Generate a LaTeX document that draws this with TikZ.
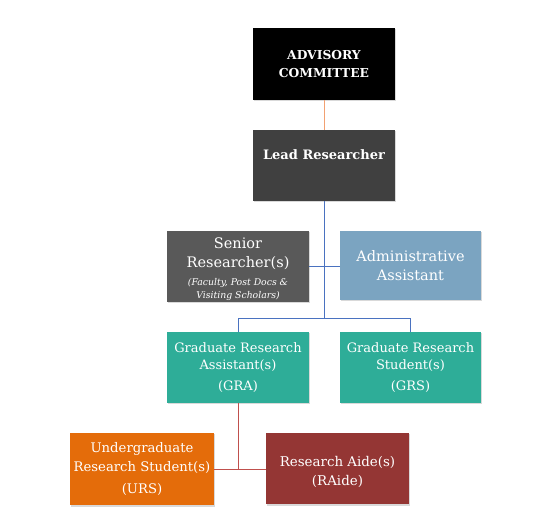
\documentclass[tikz,border=0pt]{standalone}
\usepackage{fontspec}
\setmainfont{DejaVu Serif}
\usepackage{xcolor}
\usetikzlibrary{shadows}
\definecolor{advbox}{HTML}{000000}
\definecolor{leadbox}{HTML}{404040}
\definecolor{seniorbox}{HTML}{595959}
\definecolor{adminbox}{HTML}{7BA4C1}
\definecolor{gradbox}{HTML}{2EAD98}
\definecolor{ugbox}{HTML}{E46C0A}
\definecolor{aidebox}{HTML}{943634}
\definecolor{linkorange}{HTML}{F2A172}
\definecolor{linkblue}{HTML}{4A72C0}
\definecolor{linkred}{HTML}{C0504D}
\newcommand{\notefont}{\fontsize{9.3}{12}\selectfont\itshape}
\tikzset{
  orgbox/.style={text=white, align=center, inner sep=1pt, minimum width=142pt,
                 minimum height=71pt,
                 drop shadow={opacity=0.3, shadow xshift=1pt, shadow yshift=-1.5pt}},
  link/.style={line width=0.6pt}
}

\begin{document}
\begin{tikzpicture}[x=1pt,y=-1pt]
  \useasboundingbox (0,0) rectangle (560,529);

  \node[orgbox,fill=advbox,minimum height=72pt,font=\fontsize{12.3}{17.5}\selectfont\bfseries]
    (adv) at (324,64) {ADVISORY\\COMMITTEE};
  \node[orgbox,fill=leadbox,font=\fontsize{13}{22}\selectfont\bfseries]
    (lead) at (324,165.5) {Lead Researcher\\\mbox{}};

  \node[orgbox,fill=seniorbox,font=\fontsize{14.5}{19}\selectfont]
    (senior) at (238,266.5)
    {\mbox{}\\[-3pt]Senior\\Researcher(s)\\[-1pt]
     {\notefont (Faculty, Post Docs \&}\\[-6pt]{\notefont Visiting Scholars)}};
  \node[orgbox,fill=adminbox,minimum width=141pt,minimum height=69pt,
        font=\fontsize{14.5}{19}\selectfont]
    (admin) at (410.5,265.5) {Administrative\\Assistant};

  \node[orgbox,fill=gradbox,font=\fontsize{13}{17}\selectfont]
    (gra) at (238,367.5) {Graduate Research\\Assistant(s)\\[4pt](GRA)};
  \node[orgbox,fill=gradbox,minimum width=141pt,font=\fontsize{13}{17}\selectfont]
    (grs) at (410.5,367.5) {Graduate Research\\Student(s)\\[4pt](GRS)};

  \node[orgbox,fill=ugbox,minimum width=144pt,minimum height=72pt,
        font=\fontsize{13.2}{19}\selectfont]
    (urs) at (142,469) {Undergraduate\\Research Student(s)\\[3pt](URS)};
  \node[orgbox,fill=aidebox,minimum width=143pt,font=\fontsize{13.4}{19}\selectfont]
    (raide) at (337.5,468.5) {\mbox{}\\[-1pt]Research Aide(s)\\(RAide)};

  % connectors
  \coordinate (split) at (324,318);
  \draw[link,draw=linkorange] (adv.south) -- (lead.north);
  \draw[link,draw=linkblue] (lead.south) -- (split);
  \draw[link,draw=linkblue] (senior.east) -- (senior.east -| admin.west);
  \draw[link,draw=linkblue] (gra.north) -- (gra.north |- split) -- (grs.north |- split) -- (grs.north);
  \coordinate (join) at (gra.south |- urs.east);
  \draw[link,draw=linkred] (gra.south) -- (join);
  \draw[link,draw=linkred] (urs.east) -- (raide.west |- urs.east);
\end{tikzpicture}
\end{document}
